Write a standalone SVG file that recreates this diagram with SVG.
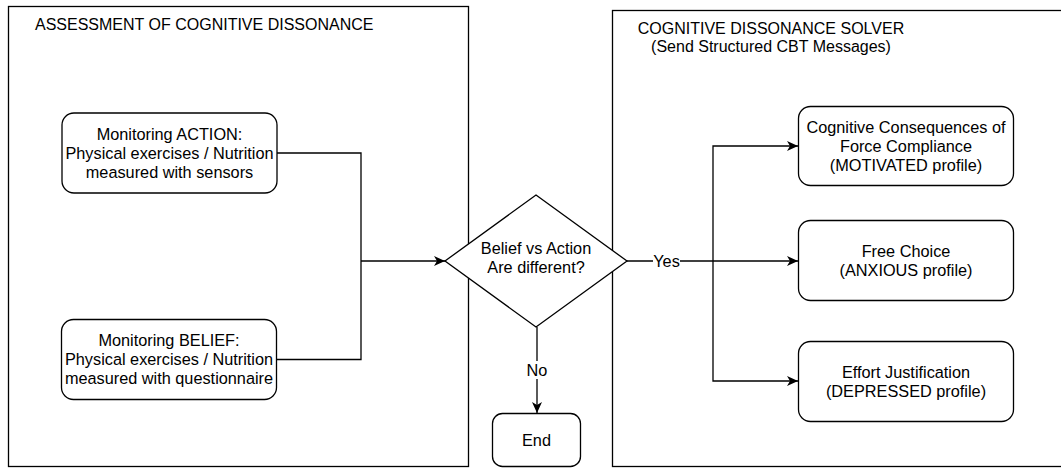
<svg xmlns="http://www.w3.org/2000/svg" width="1061" height="468" viewBox="0 0 1061 468">
<style>
.c{fill:#fff;stroke:#000;stroke-width:1.3}
.n{fill:#fff;stroke:#000;stroke-width:1.3}
.t{font-family:"Liberation Sans",Arial,sans-serif;font-size:16.3px;fill:#000;text-anchor:middle}
.tl{font-family:"Liberation Sans",Arial,sans-serif;font-size:16px;fill:#000}
.th{font-family:"Liberation Sans",Arial,sans-serif;font-size:16px;fill:#000;text-anchor:middle}
.e{fill:none;stroke:#000;stroke-width:1.3}
</style>
<defs>
<marker id="ah" viewBox="0 0 12 12" refX="11" refY="6" markerWidth="12" markerHeight="12" markerUnits="userSpaceOnUse" orient="auto">
<path d="M0,1 L11,6 L0,11 L3,6 Z" fill="#000"/>
</marker>
</defs>
<rect width="1061" height="468" fill="#fff"/>
<g id="container-assessment">
<rect class="c" x="8.5" y="6.5" width="460" height="460"/>
<text class="tl" x="35" y="30">ASSESSMENT OF COGNITIVE DISSONANCE</text>
</g>
<g id="container-solver">
<rect class="c" x="612.5" y="10.5" width="460" height="456"/>
<text class="th" x="771" y="34">COGNITIVE DISSONANCE SOLVER</text>
<text class="th" x="771" y="52">(Send Structured CBT Messages)</text>
</g>
<g id="connectors">
<path class="e" d="M277,153 H361 V359.5 H277"/>
<path class="e" d="M361,261 H445" marker-end="url(#ah)"/>
<path class="e" d="M537,327 V413" marker-end="url(#ah)"/>
<rect x="524" y="361" width="26" height="18" fill="#fff"/>
<text class="t" x="537" y="376">No</text>
<path class="e" d="M627,261 H798" marker-end="url(#ah)"/>
<path class="e" d="M713,261 V146 H798" marker-end="url(#ah)"/>
<path class="e" d="M713,261 V381 H798" marker-end="url(#ah)"/>
<rect x="653" y="253" width="27" height="16" fill="#fff"/>
<text class="t" x="666.5" y="267">Yes</text>
</g>
<g id="node-action">
<rect class="n" x="62" y="113" width="215" height="80" rx="12"/>
<text class="t" x="169.5" y="140">Monitoring ACTION:</text>
<text class="t" x="169.5" y="159">Physical exercises / Nutrition</text>
<text class="t" x="169.5" y="178">measured with sensors</text>
</g>
<g id="node-belief">
<rect class="n" x="61.5" y="319.5" width="215" height="80" rx="12"/>
<text class="t" x="169" y="346">Monitoring BELIEF:</text>
<text class="t" x="169" y="365">Physical exercises / Nutrition</text>
<text class="t" x="169" y="384">measured with questionnaire</text>
</g>
<g id="node-decision">
<path class="n" d="M536,195 L627,261 L536,327 L445,261 Z"/>
<text class="t" x="536" y="254">Belief vs Action</text>
<text class="t" x="536" y="273">Are different?</text>
</g>
<g id="node-end">
<rect class="n" x="492.5" y="413.5" width="88" height="53" rx="10"/>
<text class="t" x="536.5" y="446">End</text>
</g>
<g id="node-motivated">
<rect class="n" x="798.5" y="106.5" width="215" height="79" rx="12"/>
<text class="t" x="906" y="133">Cognitive Consequences of</text>
<text class="t" x="906" y="152">Force Compliance</text>
<text class="t" x="906" y="171">(MOTIVATED profile)</text>
</g>
<g id="node-anxious">
<rect class="n" x="798.5" y="220.5" width="215" height="80" rx="12"/>
<text class="t" x="906" y="257">Free Choice</text>
<text class="t" x="906" y="276">(ANXIOUS profile)</text>
</g>
<g id="node-depressed">
<rect class="n" x="798.5" y="341.5" width="215" height="80" rx="12"/>
<text class="t" x="906" y="378">Effort Justification</text>
<text class="t" x="906" y="397">(DEPRESSED profile)</text>
</g>
</svg>
